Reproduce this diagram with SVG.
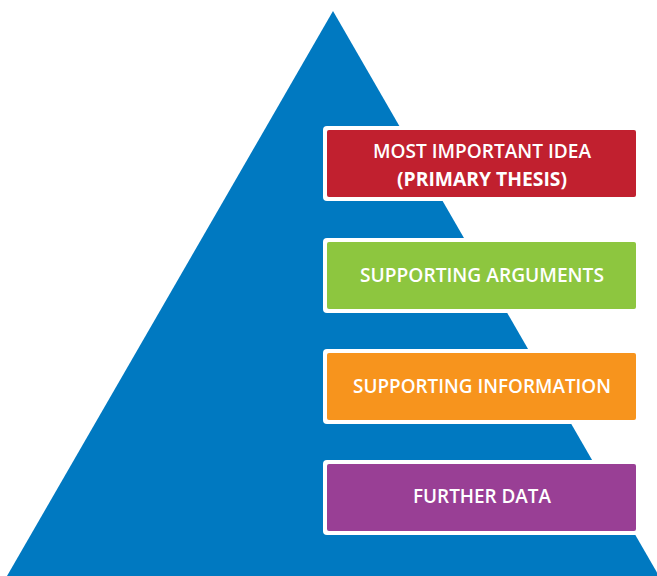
<svg xmlns="http://www.w3.org/2000/svg" width="657" height="576" viewBox="0 0 657 576">
  <style>
    .frame { fill: #ffffff; }
    .lbl { font-family: "Open Sans", "Liberation Sans", sans-serif; font-size: 19px; font-weight: 600; fill: #ffffff; text-anchor: middle; }
    .bold { font-weight: 700; }
  </style>
  <rect width="657" height="576" fill="#ffffff"/>
  <g id="pyramid">
    <polygon points="333,11 7,576 659,576" fill="#0079c1"/>
  </g>
  <g id="connectors"></g>
  <g id="node-thesis">
    <rect class="frame" x="323" y="126" width="317" height="75" rx="4"/>
    <rect x="327" y="130" width="309" height="67" rx="2" fill="#c1202f"/>
    <text class="lbl" x="482" y="158" textLength="218" lengthAdjust="spacingAndGlyphs">MOST IMPORTANT IDEA</text>
    <text class="lbl bold" x="482" y="186" textLength="170" lengthAdjust="spacingAndGlyphs">(PRIMARY THESIS)</text>
  </g>
  <g id="node-arguments">
    <rect class="frame" x="323" y="238" width="317" height="75" rx="4"/>
    <rect x="327" y="242" width="309" height="67" rx="2" fill="#8dc63f"/>
    <text class="lbl" x="482" y="282" textLength="244" lengthAdjust="spacingAndGlyphs">SUPPORTING ARGUMENTS</text>
  </g>
  <g id="node-information">
    <rect class="frame" x="323" y="349" width="317" height="75" rx="4"/>
    <rect x="327" y="353" width="309" height="67" rx="2" fill="#f7941d"/>
    <text class="lbl" x="482" y="393" textLength="258" lengthAdjust="spacingAndGlyphs">SUPPORTING INFORMATION</text>
  </g>
  <g id="node-data">
    <rect class="frame" x="323" y="460" width="317" height="75" rx="4"/>
    <rect x="327" y="464" width="309" height="67" rx="2" fill="#993f95"/>
    <text class="lbl" x="482" y="503" textLength="138" lengthAdjust="spacingAndGlyphs">FURTHER DATA</text>
  </g>
</svg>
